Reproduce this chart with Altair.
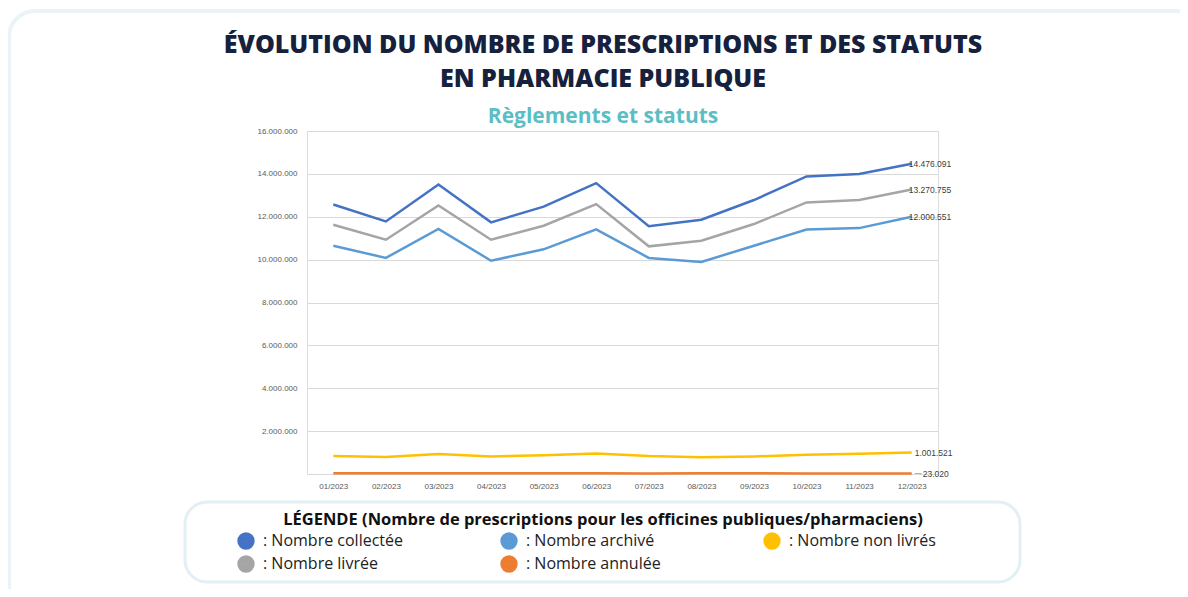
import altair as alt
import pandas as pd

months = ["01/2023", "02/2023", "03/2023", "04/2023", "05/2023", "06/2023",
          "07/2023", "08/2023", "09/2023", "10/2023", "11/2023", "12/2023"]
collectee = [12570000, 11780000, 13500000, 11740000, 12470000, 13570000,
             11560000, 11860000, 12780000, 13880000, 13990000, 14476091]
livree = [11630000, 10930000, 12530000, 10930000, 11580000, 12590000,
          10620000, 10880000, 11660000, 12670000, 12780000, 13270755]
archive = [10650000, 10080000, 11430000, 9950000, 10480000, 11410000,
           10080000, 9890000, 10650000, 11400000, 11470000, 12000551]
non_livres = [840000, 790000, 930000, 820000, 870000, 960000,
              840000, 780000, 820000, 900000, 950000, 1001521]
annulee = [35000, 32000, 38000, 30000, 33000, 36000,
           29000, 31000, 30000, 28000, 26000, 23020]

# legend order: column by column (collectée, livrée | archivé, annulée | non livrés)
series_keys = ["Nombre collectée", "Nombre livrée", "Nombre archivé",
               "Nombre annulée", "Nombre non livrés"]
series_colors = ["#4472c4", "#a5a5a5", "#5b9bd5", "#ed7d31", "#ffc000"]
series_values = [collectee, livree, archive, annulee, non_livres]

title_1 = "ÉVOLUTION DU NOMBRE DE PRESCRIPTIONS ET DES STATUTS"
title_2 = "EN PHARMACIE PUBLIQUE"
subtitle = "Règlements et statuts"
legend_title = "LÉGENDE (Nombre de prescriptions pour les officines publiques/pharmaciens)"
y_ticks = [0, 2000000, 4000000, 6000000, 8000000, 10000000, 12000000, 14000000, 16000000]

rows = []
for key, vals in zip(series_keys, series_values):
    for m, v in zip(months, vals):
        rows.append({"month": m, "series": key, "value": v})
df = pd.DataFrame(rows)

W, H = 631, 343
FONT = "Open Sans"
dot_fmt = "replace(format(datum.value, ','), regexp(',', 'g'), '.')"

x_enc = alt.X("month:O", sort=months,
              scale=alt.Scale(type="point", padding=0.5),
              axis=alt.Axis(title=None, labelAngle=0, ticks=False, domain=False,
                            labelFontSize=8, labelColor="#595959", labelPadding=8,
                            labelFont="Liberation Sans"))
y_enc = alt.Y("value:Q", scale=alt.Scale(domain=[0, 16000000], nice=False),
              axis=alt.Axis(title=None, values=y_ticks, grid=True, gridColor="#d9d9d9",
                            domain=False, ticks=False, labelFontSize=8,
                            labelColor="#595959", labelPadding=10,
                            labelFont="Liberation Sans",
                            labelExpr="datum.value == 0 ? '' : " + dot_fmt))

color_enc = alt.Color("series:N",
                      scale=alt.Scale(domain=series_keys, range=series_colors),
                      legend=alt.Legend(
                          title=None, orient="none", legendX=-70, legendY=401,
                          columns=3, gridAlign="all",
                          columnPadding=90, rowPadding=5, clipHeight=18,
                          symbolType="circle", symbolSize=70, symbolStrokeWidth=9,
                          symbolOpacity=1,
                          labelExpr="': ' + datum.label",
                          labelFont=FONT, labelFontSize=16, labelColor="#222222",
                          labelOffset=8, labelLimit=300, padding=0))

lines = alt.Chart(df).mark_line(strokeWidth=2.5).encode(
    x=x_enc, y=y_enc, color=color_enc)

last = df[df["month"] == months[-1]]
top3 = last[last["series"].isin(["Nombre collectée", "Nombre livrée", "Nombre archivé"])]
lab_top = alt.Chart(top3).transform_calculate(lbl=dot_fmt).mark_text(
    align="left", dx=-3, fontSize=8.5, font="Liberation Sans", color="#404040").encode(
    x=alt.X("month:O", sort=months), y="value:Q", text="lbl:N")
lab_nl = alt.Chart(last[last["series"] == "Nombre non livrés"]).transform_calculate(
    lbl=dot_fmt).mark_text(align="left", dx=3, fontSize=8.5, font="Liberation Sans",
                           color="#404040").encode(
    x=alt.X("month:O", sort=months), y="value:Q", text="lbl:N")
ann = last[last["series"] == "Nombre annulée"]
lab_an = alt.Chart(ann).transform_calculate(lbl=dot_fmt).mark_text(
    align="left", dx=11, fontSize=8.5, font="Liberation Sans", color="#404040").encode(
    x=alt.X("month:O", sort=months), y="value:Q", text="lbl:N")
lead = alt.Chart(ann).mark_rule(color="#a0a0a0", strokeWidth=0.8, xOffset=3, x2Offset=10).encode(
    x=alt.X("month:O", sort=months), x2=alt.X2("month"), y="value:Q")

one = pd.DataFrame({"k": [0]})
outer = alt.Chart(one).mark_rect(fillOpacity=0, stroke="#eaf4f8", strokeWidth=4,
                                 cornerRadius=26).encode(
    x=alt.value(-298), x2=alt.value(900), y=alt.value(-120), y2=alt.value(480))
legbox = alt.Chart(one).mark_rect(fillOpacity=0, stroke="#e2f0f6", strokeWidth=3,
                                  cornerRadius=22).encode(
    x=alt.value(-122), x2=alt.value(713), y=alt.value(371), y2=alt.value(451))

t1 = alt.Chart(pd.DataFrame({"t": [title_1]})).mark_text(
    font=FONT, fontSize=25, fontWeight=800, color="#16213e", align="center",
    baseline="middle").encode(x=alt.value(296), y=alt.value(-86), text="t:N")
t2 = alt.Chart(pd.DataFrame({"t": [title_2]})).mark_text(
    font=FONT, fontSize=25, fontWeight=800, color="#16213e", align="center",
    baseline="middle").encode(x=alt.value(296), y=alt.value(-52), text="t:N")
st = alt.Chart(pd.DataFrame({"t": [subtitle]})).mark_text(
    font=FONT, fontSize=21, fontWeight="bold", color="#5bbec6", align="center",
    baseline="middle").encode(x=alt.value(296), y=alt.value(-14), text="t:N")
lt = alt.Chart(pd.DataFrame({"t": [legend_title]})).mark_text(
    font=FONT, fontSize=16.5, fontWeight="bold", color="#111111", align="center",
    baseline="middle").encode(x=alt.value(296), y=alt.value(389), text="t:N")

chart = alt.layer(outer, legbox, t1, t2, st, lt, lines, lead, lab_top, lab_nl, lab_an).properties(
    width=W, height=H,
    autosize=alt.AutoSizeParams(type="none"),
    padding={"left": 299, "top": 123, "right": 242, "bottom": 115},
).configure_view(strokeWidth=0).configure(background="white")

chart.save("out.html", embed_options={"renderer": "svg", "actions": False})
